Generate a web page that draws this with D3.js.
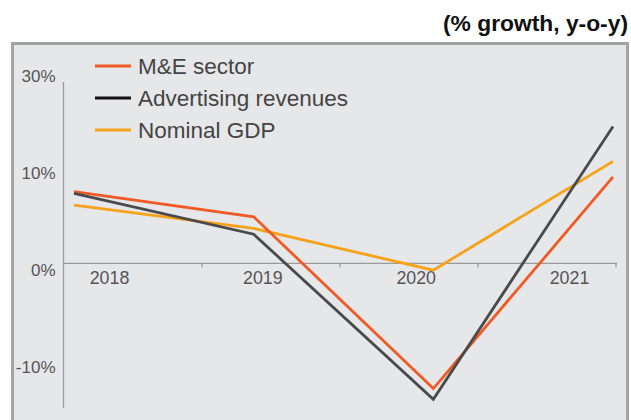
<!DOCTYPE html>
<html>
<head>
<meta charset="utf-8">
<script src="https://cdn.jsdelivr.net/npm/d3@7"></script>
<style>
  body { margin: 0; background: #fff; }
  svg text { font-family: "Liberation Sans", Arial, sans-serif; }
</style>
</head>
<body>
<div class="container"></div>
<script>
const width = 631;
const height = 420;

const years = ['2018', '2019', '2020', '2021'];
const meSector = [7.4, 4.8, -12.9, 8.9];
const adRevenues = [7.2, 3.0, -14.0, 14.1];
const nominalGdp = [6.0, 3.6, -0.7, 10.5];

const yTicks = [20, 10, 0, -10];
const yTickLabels = ['30%', '10%', '0%', '-10%'];

const seriesNames = ['M&E sector', 'Advertising revenues', 'Nominal GDP'];
const lineColors = ['#f15a24', '#4a4a4c', '#f7a21b'];
const legendColors = ['#f15a24', '#111111', '#f7a21b'];

const svg = d3.select('.container')
    .append('svg')
    .attr('width', width)
    .attr('height', height);

// title
svg.append('text')
    .attr('x', 628)
    .attr('y', 31)
    .attr('text-anchor', 'end')
    .attr('font-size', 22)
    .attr('font-weight', 'bold')
    .attr('fill', '#111')
    .attr('textLength', 185)
    .attr('lengthAdjust', 'spacingAndGlyphs')
    .text('(% growth, y-o-y)');

// frame
svg.append('rect')
    .attr('x', 12.5)
    .attr('y', 43.5)
    .attr('width', 615)
    .attr('height', 400)
    .attr('fill', '#e6e7e9')
    .attr('stroke', '#a3a3a3')
    .attr('stroke-width', 3);

const y = d3.scaleLinear()
    .domain([-14.9, 20])
    .range([408, 69.2]);

// data points, label positions and tick marks don't share spacing in the original
const xData = d3.scalePoint().domain(years).range([74, 613]);
const xLabel = d3.scalePoint().domain(years).range([109, 569]);
const xBand = d3.scaleBand().domain(years).range([64, 616]);

// y axis
const yAxis = svg.append('g')
    .attr('transform', 'translate(63.5,0)')
    .call(d3.axisLeft(y)
        .tickValues(yTicks)
        .tickSize(0)
        .tickPadding(8)
        .tickFormat((d, i) => yTickLabels[i]));
yAxis.select('.domain').remove();
yAxis.selectAll('text')
    .attr('font-size', 17)
    .attr('fill', '#555')
    .attr('dy', '0.7em');

svg.append('line')
    .attr('x1', 63.5).attr('x2', 63.5)
    .attr('y1', 82).attr('y2', 408)
    .attr('stroke', '#9a9a9a')
    .attr('stroke-width', 1.3);

// zero line with ticks
svg.append('line')
    .attr('x1', 63.5).attr('x2', 617)
    .attr('y1', y(0)).attr('y2', y(0))
    .attr('stroke', '#9a9a9a')
    .attr('stroke-width', 1.3);

svg.selectAll('.xtick')
    .data(years)
    .enter()
    .append('line')
    .attr('class', 'xtick')
    .attr('x1', d => xBand(d) + xBand.bandwidth())
    .attr('x2', d => xBand(d) + xBand.bandwidth())
    .attr('y1', y(0))
    .attr('y2', y(0) + 4)
    .attr('stroke', '#9a9a9a')
    .attr('stroke-width', 1.3);

const xAxis = svg.append('g')
    .attr('transform', `translate(0,${y(0)})`)
    .call(d3.axisBottom(xLabel).tickSize(0).tickPadding(8));
xAxis.select('.domain').remove();
xAxis.selectAll('text')
    .attr('font-size', 17.8)
    .attr('fill', '#555');

// lines
const line = d3.line()
    .x((d, i) => xData(years[i]))
    .y(d => y(d));

const allSeries = [meSector, adRevenues, nominalGdp];
const drawOrder = [2, 0, 1];

drawOrder.forEach(k => {
    svg.append('path')
        .datum(allSeries[k])
        .attr('d', line)
        .attr('fill', 'none')
        .attr('stroke', lineColors[k])
        .attr('stroke-width', 2.8)
        .attr('stroke-linejoin', 'miter');
});

// legend
const legend = svg.selectAll('.legend')
    .data(seriesNames)
    .enter()
    .append('g')
    .attr('class', 'legend')
    .attr('transform', (d, i) => `translate(95,${66 + i * 32})`);

legend.append('line')
    .attr('x1', 0).attr('x2', 36)
    .attr('stroke', (d, i) => legendColors[i])
    .attr('stroke-width', 2.8);

legend.append('text')
    .attr('x', 43)
    .attr('dy', '0.36em')
    .attr('font-size', 22.5)
    .attr('fill', '#444')
    .text(d => d);
</script>
</body>
</html>
